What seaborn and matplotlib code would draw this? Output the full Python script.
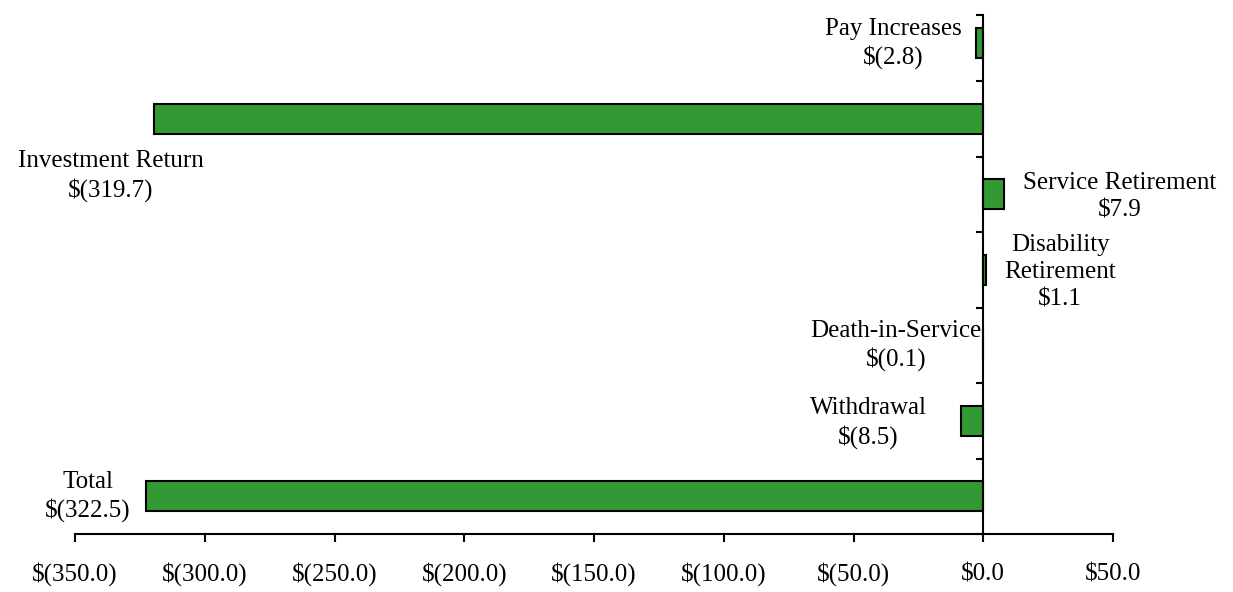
import matplotlib
matplotlib.use("Agg")
import matplotlib.pyplot as plt
import matplotlib.transforms as mtransforms
import seaborn as sns
import pandas as pd

categories = ["Pay Increases", "Investment Return", "Service Retirement",
              "Disability Retirement", "Death-in-Service", "Withdrawal", "Total"]
values = [-2.8, -319.7, 7.9, 1.1, -0.1, -8.5, -322.5]
label_texts = ["Pay Increases\n$(2.8)", "Investment Return\n$(319.7)",
               "Service Retirement\n$7.9", "Disability\nRetirement\n$1.1",
               "Death-in-Service\n$(0.1)", "Withdrawal\n$(8.5)", "Total\n$(322.5)"]
x_ticks = [-350, -300, -250, -200, -150, -100, -50, 0, 50]
x_tick_labels = ["$(350.0)", "$(300.0)", "$(250.0)", "$(200.0)", "$(150.0)",
                 "$(100.0)", "$(50.0)", "$0.0", "$50.0"]

# label anchor positions (data coords: x value, category offset)
label_x = [-34.8, -336.1, 52.7, 29.6, -33.6, -44.4, -345.0]
label_dy = [0.0, 0.76, 0.03, 0.03, 0.0, 0.03, 0.0]

sns.set_theme(style="white")
plt.rcParams["font.family"] = ["Liberation Serif", "DejaVu Serif"]
plt.rcParams["text.color"] = "black"
plt.rcParams["xtick.color"] = "black"
plt.rcParams["ytick.color"] = "black"

df = pd.DataFrame({"category": categories, "value": values})

fig = plt.figure(figsize=(12.33, 5.92), dpi=100)
ax = fig.add_axes([75 / 1233, 1 - 534 / 592, (1113 - 75) / 1233, (534 - 15) / 592])

sns.barplot(data=df, x="value", y="category", orient="h", color="#339933",
            saturation=1, edgecolor="black", linewidth=1.5, width=0.4, ax=ax)

ax.set_xlim(-350, 50)
top = -0.5 + (15 - 5.5) / 75.5
ax.set_ylim(6.5, top)

for i, txt in enumerate(label_texts):
    ax.text(label_x[i], i + label_dy[i], txt, ha="center", va="center",
            fontsize=18, linespacing=1.3, color="black", clip_on=False,
            parse_math=False)

ax.set_xticks(x_ticks)
ax.set_xticklabels([])
# tick labels drawn as baseline-aligned texts so all sit on one line
trans = mtransforms.blended_transform_factory(ax.transData, ax.transAxes)
trans = trans + mtransforms.ScaledTranslation(0, -47 / 100, fig.dpi_scale_trans)
for xv, lab in zip(x_ticks, x_tick_labels):
    ax.text(xv, 0, lab, transform=trans, ha="center", va="baseline",
            fontsize=18, color="black", clip_on=False, parse_math=False)

ax.set_yticks([top] + [i + 0.5 for i in range(7)])
ax.set_yticklabels([])
ax.set_xlabel("")
ax.set_ylabel("")

for s in ["top", "right"]:
    ax.spines[s].set_visible(False)
ax.spines["left"].set_position(("data", 0))
for s in ["left", "bottom"]:
    ax.spines[s].set_color("black")
    ax.spines[s].set_linewidth(1.5)
ax.tick_params(axis="both", direction="out", length=6, width=1.5, color="black",
               bottom=True, left=True)
ax.tick_params(axis="y", length=5)
ax.set_facecolor("white")
fig.patch.set_facecolor("white")

fig.savefig("out.png", dpi=100)
